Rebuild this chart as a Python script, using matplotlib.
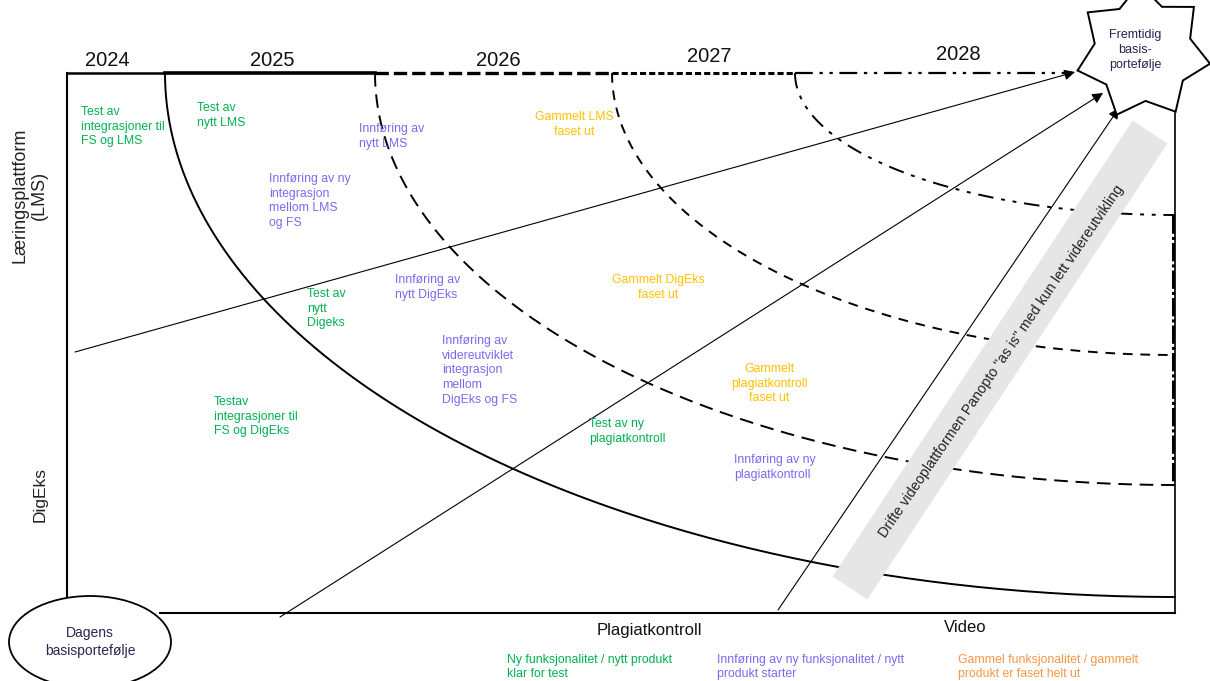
"""Veikart: fra dagens til fremtidig basisportefølje (2024-2028)."""

import numpy as np
import matplotlib
matplotlib.use("Agg")
import matplotlib.pyplot as plt
from matplotlib.patches import Ellipse, Polygon

plt.rcParams["font.family"] = ["Liberation Sans", "DejaVu Sans"]

# --- data (pixel-ish diagram units, y grows downward) ---
years = ["2024", "2025", "2026", "2027", "2028"]
year_x = [107, 272, 498, 709, 958]
year_y = [60, 61, 61, 56, 55]

box = dict(left=67, top=73, right=1175, bottom=613)
arc_center = (1175, 73)
arc_top_x = [165, 375, 612, 795]          # where each phase curve meets the top edge
arc_right_y = [597, 485, 355, 215]        # where each phase curve meets the right edge
arc_styles = ["-", (0, (7, 4)), (0, (5, 4)), (0, (8, 4, 2, 4, 2, 4))]

star_center = (1143, 52)
arrow_starts = [(75, 352), (280, 617), (778, 610)]
arrow_tips = [(1075, 72), (1103, 93), (1119, 108)]

GREEN, PURPLE, GOLD, ORANGE = "#00b050", "#7b68f0", "#ffc000", "#f79646"

notes = [
    ("Test av\nintegrasjoner til\nFS og LMS", 81, 106, GREEN, "left"),
    ("Test av\nnytt LMS", 197, 102, GREEN, "left"),
    ("Test av\nnytt\nDigeks", 307, 288, GREEN, "left"),
    ("Testav\nintegrasjoner til\nFS og DigEks", 214, 396, GREEN, "left"),
    ("Test av ny\nplagiatkontroll", 589, 418, GREEN, "left"),
    ("Innføring av\nnytt LMS", 359, 123, PURPLE, "left"),
    ("Innføring av ny\nintegrasjon\nmellom LMS\nog FS", 269, 173, PURPLE, "left"),
    ("Innføring av\nnytt DigEks", 395, 274, PURPLE, "left"),
    ("Innføring av\nvidereutviklet\nintegrasjon\nmellom\nDigEks og FS", 442, 335, PURPLE, "left"),
    ("Innføring av ny\nplagiatkontroll", 734, 454, PURPLE, "left"),
    ("Gammelt LMS\nfaset ut", 574, 111, GOLD, "center"),
    ("Gammelt DigEks\nfaset ut", 658, 274, GOLD, "center"),
    ("Gammelt\nplagiatkontroll\nfaset ut", 769, 363, GOLD, "center"),
]

legend = [
    ("Ny funksjonalitet / nytt produkt\nklar for test", 507, GREEN),
    ("Innføring av ny funksjonalitet / nytt\nprodukt starter", 717, PURPLE),
    ("Gammel funksjonalitet / gammelt\nprodukt er faset helt ut", 958, ORANGE),
]

fig = plt.figure(figsize=(12.1, 6.81), dpi=100)
ax = fig.add_axes([0, 0, 1, 1])
ax.set_xlim(0, 1210)
ax.set_ylim(681, 0)
ax.axis("off")

L, T, R, B = box["left"], box["top"], box["right"], box["bottom"]

# ramme
ax.plot([L, L], [T, 600], color="black", lw=1.5)
ax.plot([160, R], [B, B], color="black", lw=1.5)
ax.plot([R, R], [113, B], color="black", lw=1.2)
ax.plot([R - 2, R - 2], [215, 485], color="black", lw=2.2, ls=(0, (6, 1, 1, 1)))
ax.plot([L, 165], [T, T], color="black", lw=1.8)
ax.plot([165, 375], [T, T], color="black", lw=2.6)
ax.plot([375, 612], [T, T], color="black", lw=2.4, ls=(0, (4, 1.5)))
ax.plot([612, 795], [T, T], color="black", lw=2.2, ls=(0, (2, 1)))
ax.plot([795, 1072], [T, T], color="black", lw=1.6, ls=(0, (8, 3, 1.5, 3, 1.5, 3)))

# fasekurver (kvarte ellipser)
cx, cy = arc_center
t = np.linspace(0, np.pi / 2, 200)
for x0, y1, ls in zip(arc_top_x, arc_right_y, arc_styles):
    a, b = cx - x0, y1 - cy
    ax.plot(cx - a * np.cos(t), cy + b * np.sin(t), color="black", lw=1.4, ls=ls)

# piler mot fremtidig portefølje
for (x0, y0), (x1, y1) in zip(arrow_starts, arrow_tips):
    ax.annotate("", xy=(x1, y1), xytext=(x0, y0),
                arrowprops=dict(arrowstyle="-|>", color="black", lw=0.8,
                                mutation_scale=16, shrinkA=0, shrinkB=0))

# grått bånd for video
band = [(850, 588), (1150, 132)]
ax.plot([p[0] for p in band], [p[1] for p in band], color="#e6e6e6", lw=30,
        solid_capstyle="butt", zorder=3)
ax.text(1001, 361, 'Drifte videoplattformen Panopto "as is" med kun lett videreutvikling',
        rotation=55.7, rotation_mode="anchor", ha="center", va="center",
        fontsize=10.3, color="#222222", zorder=4)

# stjerne
ang = np.deg2rad(195.8 - np.arange(14) * 360 / 14)
rad = np.where(np.arange(14) % 2 == 0, 68, 49)
sx = star_center[0] + rad * np.cos(ang)
sy = star_center[1] - rad * np.sin(ang)
ax.add_patch(Polygon(np.column_stack([sx, sy]), closed=True, facecolor="white",
                     edgecolor="black", lw=1.4, zorder=5))
ax.text(1135, 50, "Fremtidig\nbasis-\nportefølje", ha="center", va="center",
        fontsize=9, color="#2b2350", linespacing=1.35, zorder=6)

# ellipse nede til venstre
ax.add_patch(Ellipse((90, 642), 162, 92, facecolor="white", edgecolor="black",
                     lw=1.3, zorder=5))
ax.text(90, 642, "Dagens\nbasisportefølje", ha="center", va="center",
        fontsize=10, color="#2b2350", linespacing=1.3, zorder=6)

# årstall og aksetekster
for yr, x, y in zip(years, year_x, year_y):
    ax.text(x, y, yr, ha="center", va="center", fontsize=14.5, color="#111111")
ax.text(30, 195, "Læringsplattform\n(LMS)", rotation=90, ha="center", va="center",
        fontsize=13, color="#222222", linespacing=1.2)
ax.text(40, 495, "DigEks", rotation=90, ha="center", va="center",
        fontsize=12.5, color="#222222")
ax.text(649, 631, "Plagiatkontroll", ha="center", va="center", fontsize=12, color="#111111")
ax.text(965, 628, "Video", ha="center", va="center", fontsize=12, color="#111111")

# merknader
for txt, x, y, col, ha in notes:
    ax.text(x, y, txt, ha=ha, va="top", fontsize=8.8, color=col, linespacing=1.3)

# forklaring
for txt, x, col in legend:
    ax.text(x, 654, txt, ha="left", va="top", fontsize=8.8, color=col, linespacing=1.2)

fig.savefig("out.png", dpi=100)
